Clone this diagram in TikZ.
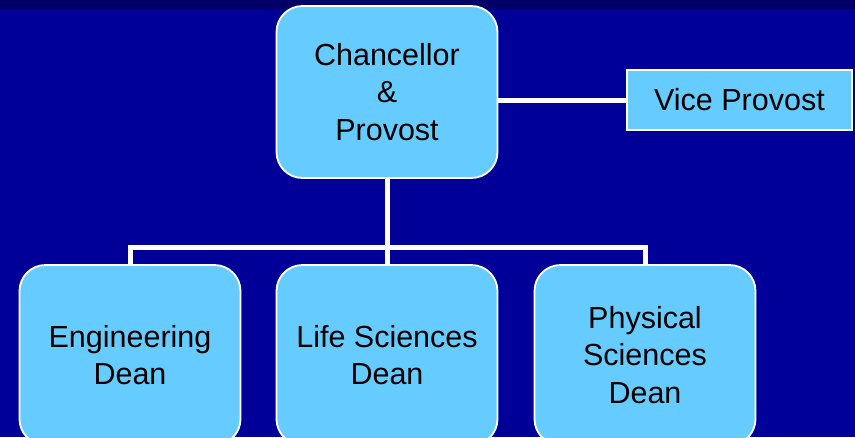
\documentclass[tikz,border=0pt]{standalone}
\usepackage{fontspec}
\setmainfont{Liberation Sans}
\definecolor{bgblue}{HTML}{000099}
\definecolor{topblue}{HTML}{000066}
\definecolor{boxblue}{HTML}{66CCFF}
\begin{document}
\begin{tikzpicture}[x=1pt,y=-1pt,
  box/.style={draw=white,line width=1.8pt,fill=boxblue,rounded corners=26pt,
    inner sep=0pt,align=center,font=\fontsize{30.5}{37.5}\selectfont,text=black},
  sqbox/.style={draw=white,line width=1.8pt,fill=boxblue,inner sep=0pt,
    align=center,font=\fontsize{30.5}{37.5}\selectfont,text=black},
  conn/.style={draw=white,line width=5pt}]
\useasboundingbox (0,0) rectangle (855,437);
\clip (0,0) rectangle (855,437);
\fill[bgblue] (0,0) rectangle (855,437);
\fill[topblue] (0,0) rectangle (855,9);
\coordinate (bus) at (387,247);
\node[box,minimum width=221pt,minimum height=172pt] (chan) at (387,92) {Chancellor\\\&\\Provost};
\node[sqbox,minimum width=225pt,minimum height=60pt] (vp) at (739.5,100) {Vice Provost};
\node[box,minimum width=221pt,minimum height=180pt] (eng) at (130,355) {Engineering\\Dean};
\node[box,minimum width=221pt,minimum height=180pt] (life) at (387,355) {Life Sciences\\Dean};
\node[box,minimum width=221pt,minimum height=180pt] (phys) at (645,355) {Physical\\Sciences\\Dean};
\draw[conn] (vp.west) -- (vp.west -| chan.east);
\draw[conn] (chan.south) -- (bus);
\draw[conn] (eng.north) |- (bus) -| (phys.north);
\draw[conn] (life.north) -- (life.north |- bus);
\end{tikzpicture}
\end{document}
